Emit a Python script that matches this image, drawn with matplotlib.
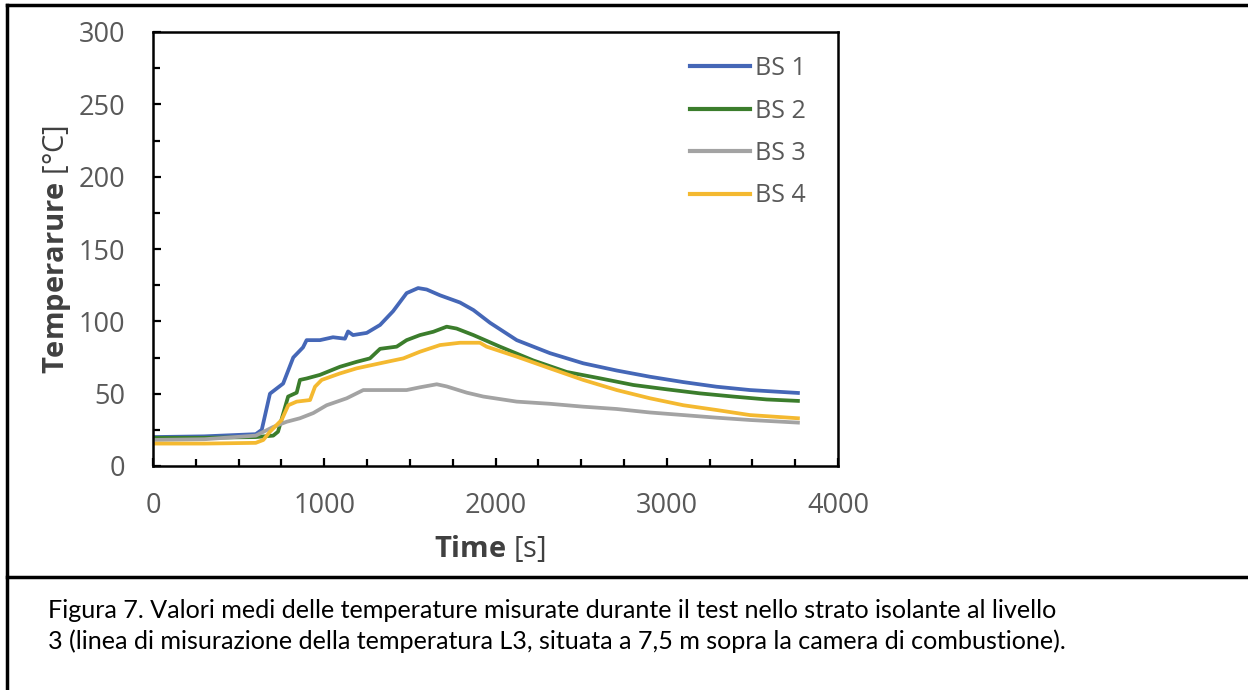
import matplotlib
matplotlib.use('Agg')

import matplotlib.pyplot as plt
from matplotlib.lines import Line2D
from matplotlib.ticker import MultipleLocator

# values (time in s, temperature in C)
t_bs1 = [0, 300, 600, 635, 683, 760, 819, 876, 897, 975, 1051, 1121, 1139, 1168, 1248,
         1326, 1402, 1481, 1548, 1598, 1676, 1793, 1871, 1968, 2124, 2318, 2512, 2708,
         2902, 3097, 3291, 3486, 3766]
temp_bs1 = [20, 20.5, 22, 25, 50, 57, 75, 82, 87, 87, 89, 88, 93, 90.5, 92,
            97.5, 107, 119.5, 123, 122, 118, 113, 107.8, 99, 87, 78, 71, 66,
            61.7, 58, 54.8, 52.5, 50.5]

t_bs2 = [0, 300, 600, 702, 730, 789, 839, 858, 897, 975, 1092, 1189, 1267, 1326, 1423,
         1481, 1559, 1637, 1715, 1773, 1871, 2026, 2220, 2416, 2610, 2805, 3000, 3194,
         3388, 3583, 3766]
temp_bs2 = [19.5, 19.5, 20, 21, 23.7, 48, 50.7, 59.5, 60.5, 63, 68.6, 72, 74.4, 81, 82.5,
            87, 90.5, 92.8, 96.3, 95, 90.5, 82.5, 73, 65, 60.6, 56, 53, 50.2,
            48, 46, 45]

t_bs3 = [0, 300, 600, 702, 781, 858, 936, 1014, 1131, 1228, 1481, 1559, 1657, 1715,
         1832, 1929, 2124, 2318, 2512, 2708, 2902, 3097, 3291, 3486, 3766]
temp_bs3 = [18, 18.5, 21, 27, 30.6, 33, 36.6, 42, 46.8, 52.5, 52.5, 54.4, 56.5, 55,
            50.7, 48, 44.5, 43, 41, 39.4, 37, 35.2, 33.4, 31.8, 30]

t_bs4 = [0, 300, 600, 644, 683, 751, 790, 839, 917, 946, 985, 1092, 1189, 1326, 1462,
         1559, 1676, 1793, 1909, 1948, 2124, 2318, 2512, 2708, 2902, 3097, 3291, 3486, 3766]
temp_bs4 = [15.5, 15.5, 16, 18, 23.7, 31.8, 42, 44.5, 45.6, 54.8, 59.5, 64, 67.5, 71, 74.4,
            79, 83.6, 85.2, 85.2, 82.5, 75.6, 67.5, 59.5, 52.5, 46.8, 42, 38.7, 35.2, 33]

labels = ['BS 1', 'BS 2', 'BS 3', 'BS 4']
colors = ['#4567b7', '#3b7d2c', '#a3a3a3', '#f4b930']

caption = ["Figura 7. Valori medi delle temperature misurate durante il test nello strato isolante al livello",
           "3 (linea di misurazione della temperatura L3, situata a 7,5 m sopra la camera di combustione)."]

plt.rcParams['font.family'] = ['Open Sans', 'DejaVu Sans']
plt.rcParams['mathtext.fontset'] = 'custom'
plt.rcParams['mathtext.rm'] = 'Open Sans'
plt.rcParams['mathtext.bf'] = 'Open Sans:bold'

fig = plt.figure(figsize=(12.48, 6.9), dpi=100)
ax = fig.add_axes([153 / 1248, 1 - 466 / 690, 685 / 1248, 434 / 690])

series = [(t_bs1, temp_bs1), (t_bs2, temp_bs2), (t_bs3, temp_bs3), (t_bs4, temp_bs4)]
for (t, temp), lab, col in zip(series, labels, colors):
    ax.plot(t, temp, color=col, lw=2.7, label=lab, solid_joinstyle='round')

ax.set_xlim(0, 4000)
ax.set_ylim(0, 300)
ax.xaxis.set_major_locator(MultipleLocator(1000))
ax.xaxis.set_minor_locator(MultipleLocator(250))
ax.yaxis.set_major_locator(MultipleLocator(50))
ax.yaxis.set_minor_locator(MultipleLocator(25))
ax.tick_params(which='both', direction='in', width=1.6, colors='black',
               labelcolor='#595959', labelsize=19.5)
ax.tick_params(which='major', length=6)
ax.tick_params(which='minor', length=5)
ax.tick_params(axis='x', pad=19)
ax.tick_params(axis='y', pad=20)
for sp in ax.spines.values():
    sp.set_linewidth(1.8)

fig.text(57 / 1248, 1 - 249 / 690, r'$\mathbf{Temperarure}$ [°C]', rotation=90,
         ha='center', va='center', fontsize=21, color='#404040')
fig.text(490 / 1248, 1 - 548 / 690, r'$\mathbf{Time}$ [s]',
         ha='center', va='center', fontsize=21, color='#404040')

leg = ax.legend(loc='upper left', bbox_to_anchor=(690 / 1248, 1 - 56 / 690),
                bbox_transform=fig.transFigure, frameon=False, fontsize=18,
                handlelength=2.4, handletextpad=0.2, labelspacing=0.7,
                borderpad=0, borderaxespad=0)
for txt in leg.get_texts():
    txt.set_color('#595959')
for h in leg.get_lines():
    h.set_linewidth(3)

# page frame and caption
fig.add_artist(Line2D([7 / 1248, 1], [1 - 5 / 690, 1 - 5 / 690], color='black', lw=2.5))
fig.add_artist(Line2D([7 / 1248, 7 / 1248], [0, 1 - 5 / 690], color='black', lw=2.5))
fig.add_artist(Line2D([7 / 1248, 1], [1 - 577 / 690, 1 - 577 / 690], color='black', lw=2.5))
fig.text(48 / 1248, 1 - 610 / 690, caption[0], ha='left', va='center',
         fontsize=18.1, family=['Lato', 'DejaVu Sans'])
fig.text(48 / 1248, 1 - 641 / 690, caption[1], ha='left', va='center',
         fontsize=18.1, family=['Lato', 'DejaVu Sans'])

fig.savefig('out.png', dpi=100)
